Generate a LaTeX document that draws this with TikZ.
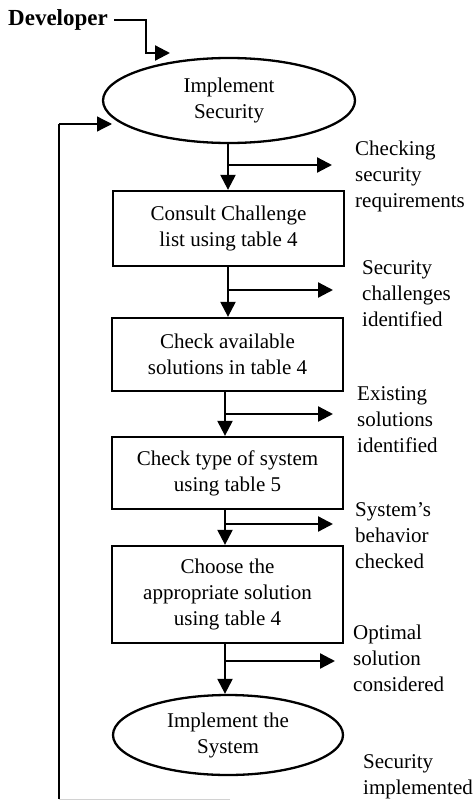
\documentclass[tikz,border=0pt]{standalone}
\usepackage{fontspec}
\setmainfont{Liberation Serif}
\usetikzlibrary{shapes.geometric,arrows.meta}

\begin{document}
\begin{tikzpicture}[x=1pt,y=-1pt,
  flow/.style={line width=2.3pt},
  tip/.style={-{Triangle[length=15pt,width=15pt]}},
  arr/.style={flow,tip},
  txt/.style={font=\fontsize{21}{26}\selectfont, align=center},
  stepbox/.style={draw, line width=2.3pt, minimum width=231pt, inner sep=0pt, txt},
  oval/.style={draw, ellipse, line width=2.3pt, inner sep=0pt, txt},
  lbl/.style={font=\fontsize{21}{26}\selectfont, align=left, anchor=north west, inner sep=0pt},
  loopline/.style={line width=1.3pt},
]
\useasboundingbox (0,0) rectangle (475,800);

% actor
\node[font=\bfseries\fontsize{23}{27}\selectfont, anchor=west, inner sep=0pt] (dev) at (8,20) {Developer};

% process steps
\node[oval, minimum width=252pt, minimum height=85pt] (e1) at (229,100.5) {Implement\\Security};
\node[stepbox, minimum height=75pt] (b1) at (228.5,228.5) {Consult Challenge\\list using table 4};
\node[stepbox, minimum height=73pt] (b2) at (227.5,354.5) {Check available\\solutions in table 4};
\node[stepbox, minimum height=72pt] (b3) at (227.5,473) {Check type of system\\using table 5};
\node[stepbox, minimum height=97pt] (b4) at (227.5,594.5) {Choose the\\appropriate solution\\using table 4};
\node[oval, minimum width=230pt, minimum height=80pt] (e2) at (228,735) {Implement the\\System};

% outcome labels
\node[lbl] (l1) at (355,141) {Checking\\security\\requirements};
\node[lbl] (l2) at (362,260) {Security\\challenges\\identified};
\node[lbl] (l3) at (357,386) {Existing\\solutions\\identified};
\node[lbl] (l4) at (355,502) {System’s\\behavior\\checked};
\node[lbl] (l5) at (353,625) {Optimal\\solution\\considered};
\node[lbl] (l6) at (363,754) {Security\\implemented};

% developer entry
\coordinate (devk) at (146,53);
\coordinate (devin) at (170,53);
\draw[arr] ([xshift=6pt]dev.east) -| (devk) -- (devin);

% main flow
\draw[arr] ([xshift=-1pt]e1.south) -- ([xshift=-0.5pt]b1.north);
\draw[arr] ([xshift=-0.5pt]b1.south) -- ([xshift=0.5pt]b2.north);
\draw[arr] ([xshift=-2.5pt]b2.south) -- ([xshift=-2.5pt]b3.north);
\draw[arr] ([xshift=-2.5pt]b3.south) -- ([xshift=-2.5pt]b4.north);
\draw[arr] ([xshift=-2.5pt]b4.south) -- ([xshift=-3pt]e2.north);

% outcome branches
\coordinate (s1) at (228,165);  \coordinate (t1) at (332,165);
\coordinate (s2) at (228,290);  \coordinate (t2) at (333,290);
\coordinate (s3) at (225,414);  \coordinate (t3) at (333,414);
\coordinate (s4) at (225,524);  \coordinate (t4) at (333,524);
\coordinate (s5) at (225,661);  \coordinate (t5) at (335,661);
\foreach \i in {1,...,5} \draw[arr] (s\i) -- (t\i);

% feedback loop
\coordinate (lp0) at (230,799);
\coordinate (lp1) at (59,799);
\coordinate (lp2) at (59,124);
\coordinate (lpin) at (112,124);
\draw[gray!35, line width=0.8pt] (lp0) -- (lp1);
\draw[loopline] (lp1) -- (lp2);
\draw[loopline,tip] (lp2) -- (lpin);
\end{tikzpicture}
\end{document}
